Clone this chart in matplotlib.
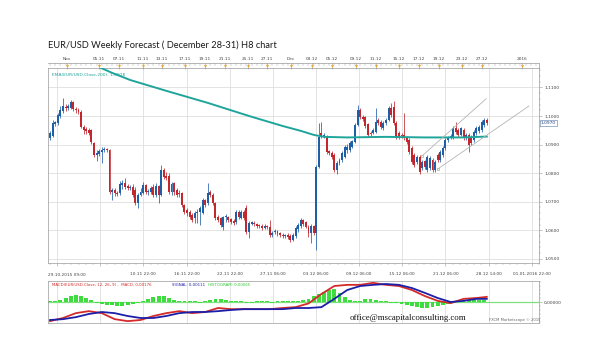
import numpy as np
import matplotlib.pyplot as plt
import matplotlib.transforms as mtransforms
from matplotlib.ticker import FixedLocator, MultipleLocator

title = 'EUR/USD Weekly Forecast ( December 28-31) H8 chart'

# H8 candles
opens = [
    1.0923, 1.0930, 1.0972, 1.0976, 1.1000, 1.1018, 1.1032, 1.1028, 1.1028, 1.1049,
    1.1025, 1.1021, 1.1014, 1.0962, 1.0955, 1.0951, 1.0951, 1.0906, 1.0864, 1.0867,
    1.0874, 1.0881, 1.0885, 1.0881, 1.0734, 1.0741, 1.0731, 1.0731, 1.0759, 1.0766,
    1.0755, 1.0748, 1.0752, 1.0741, 1.0696, 1.0724, 1.0731, 1.0759, 1.0734, 1.0734,
    1.0752, 1.0724, 1.0755, 1.0724, 1.0811, 1.0790, 1.0790, 1.0734, 1.0766, 1.0741,
    1.0731, 1.0731, 1.0689, 1.0671, 1.0664, 1.0654, 1.0643, 1.0661, 1.0664, 1.0661,
    1.0706, 1.0696, 1.0734, 1.0724, 1.0696, 1.0647, 1.0643, 1.0612, 1.0647, 1.0647,
    1.0640, 1.0633, 1.0629, 1.0664, 1.0643, 1.0664, 1.0678, 1.0594, 1.0622, 1.0626,
    1.0622, 1.0619, 1.0615, 1.0608, 1.0615, 1.0612, 1.0584, 1.0594, 1.0598, 1.0591,
    1.0584, 1.0580, 1.0584, 1.0580, 1.0566, 1.0580, 1.0605, 1.0615, 1.0636, 1.0629,
    1.0612, 1.0591, 1.0615, 1.0591, 1.0822, 1.0941, 1.0930, 1.0927, 1.0878, 1.0871,
    1.0864, 1.0811, 1.0836, 1.0846, 1.0857, 1.0881, 1.0881, 1.0892, 1.0909, 1.0969,
    1.1021, 1.0997, 1.0997, 1.0972, 1.0941, 1.0941, 1.0944, 1.0986, 1.0979, 1.0958,
    1.0976, 1.0986, 1.1028, 1.1032, 1.0976, 1.0941, 1.0934, 1.0934, 1.0923, 1.0916,
    1.0888, 1.0864, 1.0839, 1.0857, 1.0818, 1.0843, 1.0811, 1.0818, 1.0846, 1.0811,
    1.0864, 1.0846, 1.0864, 1.0888, 1.0916, 1.0927, 1.0927, 1.0958, 1.0951, 1.0934,
    1.0951, 1.0923, 1.0934, 1.0927, 1.0916, 1.0941, 1.0948, 1.0951, 1.0969, 1.0986,
]
highs = [
    1.0948, 1.0986, 1.0983, 1.1011, 1.1035, 1.1063, 1.1042, 1.1042, 1.1056, 1.1053,
    1.1032, 1.1028, 1.1021, 1.0969, 1.0962, 1.0958, 1.0955, 1.0909, 1.0881, 1.0885,
    1.0892, 1.0892, 1.0888, 1.0885, 1.0748, 1.0748, 1.0738, 1.0773, 1.0776, 1.0783,
    1.0762, 1.0759, 1.0762, 1.0752, 1.0731, 1.0748, 1.0769, 1.0762, 1.0745, 1.0755,
    1.0762, 1.0766, 1.0759, 1.0829, 1.0818, 1.0804, 1.0801, 1.0769, 1.0769, 1.0748,
    1.0741, 1.0734, 1.0692, 1.0678, 1.0671, 1.0661, 1.0668, 1.0675, 1.0685, 1.0713,
    1.0710, 1.0766, 1.0741, 1.0731, 1.0699, 1.0654, 1.0647, 1.0650, 1.0657, 1.0650,
    1.0643, 1.0640, 1.0671, 1.0671, 1.0671, 1.0671, 1.0689, 1.0633, 1.0633, 1.0633,
    1.0626, 1.0622, 1.0622, 1.0622, 1.0619, 1.0636, 1.0598, 1.0605, 1.0601, 1.0594,
    1.0591, 1.0587, 1.0591, 1.0587, 1.0591, 1.0615, 1.0626, 1.0643, 1.0640, 1.0633,
    1.0619, 1.0622, 1.0619, 1.0829, 1.0976, 1.0979, 1.0941, 1.0934, 1.0881, 1.0878,
    1.0871, 1.0843, 1.0853, 1.0878, 1.0899, 1.0902, 1.0913, 1.0916, 1.0976, 1.1039,
    1.1028, 1.1004, 1.1000, 1.0976, 1.0948, 1.0958, 1.1028, 1.0993, 1.0986, 1.0983,
    1.0993, 1.1035, 1.1046, 1.1053, 1.0983, 1.0948, 1.0941, 1.1011, 1.0930, 1.0923,
    1.0895, 1.0871, 1.0864, 1.0864, 1.0846, 1.0846, 1.0864, 1.0860, 1.0853, 1.0846,
    1.0871, 1.0881, 1.0895, 1.0923, 1.0930, 1.0937, 1.0965, 1.0979, 1.0958, 1.0962,
    1.0958, 1.0941, 1.0941, 1.0934, 1.0951, 1.0965, 1.0969, 1.0986, 1.0993, 1.0993,
]
lows = [
    1.0916, 1.0927, 1.0965, 1.0969, 1.0993, 1.1011, 1.1018, 1.1021, 1.1025, 1.1018,
    1.1011, 1.1007, 1.0958, 1.0937, 1.0937, 1.0934, 1.0902, 1.0857, 1.0843, 1.0860,
    1.0836, 1.0874, 1.0874, 1.0727, 1.0706, 1.0720, 1.0720, 1.0724, 1.0745, 1.0745,
    1.0741, 1.0741, 1.0717, 1.0689, 1.0678, 1.0720, 1.0727, 1.0727, 1.0724, 1.0727,
    1.0717, 1.0717, 1.0696, 1.0720, 1.0780, 1.0776, 1.0727, 1.0724, 1.0724, 1.0717,
    1.0717, 1.0682, 1.0657, 1.0650, 1.0640, 1.0629, 1.0626, 1.0626, 1.0619, 1.0657,
    1.0682, 1.0689, 1.0717, 1.0689, 1.0636, 1.0629, 1.0612, 1.0601, 1.0629, 1.0629,
    1.0622, 1.0619, 1.0622, 1.0640, 1.0640, 1.0636, 1.0587, 1.0573, 1.0619, 1.0615,
    1.0608, 1.0608, 1.0601, 1.0605, 1.0605, 1.0577, 1.0577, 1.0587, 1.0580, 1.0577,
    1.0573, 1.0573, 1.0570, 1.0559, 1.0563, 1.0573, 1.0594, 1.0608, 1.0615, 1.0608,
    1.0577, 1.0556, 1.0584, 1.0531, 1.0818, 1.0923, 1.0923, 1.0867, 1.0864, 1.0850,
    1.0804, 1.0797, 1.0829, 1.0839, 1.0853, 1.0871, 1.0874, 1.0888, 1.0906, 1.0965,
    1.0990, 1.0983, 1.0958, 1.0927, 1.0930, 1.0937, 1.0941, 1.0969, 1.0955, 1.0951,
    1.0969, 1.0983, 1.0997, 1.0969, 1.0920, 1.0920, 1.0923, 1.0916, 1.0902, 1.0867,
    1.0832, 1.0822, 1.0832, 1.0797, 1.0811, 1.0815, 1.0804, 1.0811, 1.0804, 1.0804,
    1.0839, 1.0839, 1.0857, 1.0881, 1.0909, 1.0920, 1.0920, 1.0937, 1.0927, 1.0930,
    1.0916, 1.0916, 1.0874, 1.0899, 1.0909, 1.0934, 1.0941, 1.0944, 1.0962, 1.0969,
]
closes = [
    1.0941, 1.0976, 1.0979, 1.1004, 1.1021, 1.1035, 1.1028, 1.1035, 1.1049, 1.1025,
    1.1021, 1.1014, 1.0962, 1.0951, 1.0948, 1.0941, 1.0909, 1.0864, 1.0871, 1.0878,
    1.0881, 1.0885, 1.0881, 1.0734, 1.0741, 1.0731, 1.0727, 1.0762, 1.0766, 1.0752,
    1.0748, 1.0752, 1.0724, 1.0696, 1.0724, 1.0734, 1.0759, 1.0734, 1.0738, 1.0748,
    1.0724, 1.0755, 1.0724, 1.0811, 1.0787, 1.0783, 1.0734, 1.0762, 1.0734, 1.0724,
    1.0727, 1.0689, 1.0664, 1.0661, 1.0647, 1.0636, 1.0661, 1.0664, 1.0678, 1.0706,
    1.0689, 1.0731, 1.0724, 1.0696, 1.0643, 1.0636, 1.0619, 1.0647, 1.0650, 1.0636,
    1.0629, 1.0626, 1.0664, 1.0647, 1.0664, 1.0643, 1.0594, 1.0626, 1.0629, 1.0622,
    1.0615, 1.0615, 1.0608, 1.0615, 1.0612, 1.0584, 1.0591, 1.0598, 1.0587, 1.0584,
    1.0580, 1.0584, 1.0577, 1.0566, 1.0584, 1.0608, 1.0619, 1.0636, 1.0622, 1.0612,
    1.0591, 1.0615, 1.0591, 1.0822, 1.0927, 1.0927, 1.0934, 1.0874, 1.0871, 1.0857,
    1.0811, 1.0836, 1.0846, 1.0871, 1.0892, 1.0892, 1.0906, 1.0913, 1.0969, 1.1021,
    1.0997, 1.0990, 1.0965, 1.0934, 1.0937, 1.0951, 1.0979, 1.0976, 1.0962, 1.0976,
    1.0986, 1.1028, 1.1004, 1.0976, 1.0927, 1.0927, 1.0930, 1.0923, 1.0909, 1.0874,
    1.0839, 1.0829, 1.0857, 1.0804, 1.0839, 1.0822, 1.0857, 1.0853, 1.0811, 1.0839,
    1.0846, 1.0874, 1.0888, 1.0916, 1.0923, 1.0930, 1.0958, 1.0944, 1.0934, 1.0958,
    1.0923, 1.0934, 1.0899, 1.0906, 1.0944, 1.0958, 1.0962, 1.0979, 1.0986, 1.0976,
]

# EMA(200) sampled at bar numbers
ema_bars = [18, 24, 31, 45, 61, 77, 90, 97, 102, 106, 115, 130, 145, 160, 169]
ema_vals = [1.1175, 1.1151, 1.1126, 1.1088, 1.1046, 1.1000, 1.0965, 1.0948,
            1.0934, 1.0927, 1.0925, 1.0927, 1.0925, 1.0925, 1.0928]

# hand drawn channel (bar, price)
upper_bars, upper_px = [143.9, 168.7], [1.0860, 1.1060]
lower_bars, lower_px = [150.1, 185.3], [1.0815, 1.1035]

# MACD(12,26,9) sampled every 5 bars
macd_bars = list(range(0, 170, 5)) + [169]
macd_vals = [-0.0067, -0.0056, -0.0039, -0.0032, -0.0039, -0.0060, -0.0067, -0.0063,
             -0.0049, -0.0039, -0.0032, -0.0039, -0.0035, -0.0021, -0.0025, -0.0025,
             -0.0025, -0.0025, -0.0021, -0.0018, -0.0005, 0.0028, 0.0056, 0.0060,
             0.0060, 0.0067, 0.0060, 0.0056, 0.0042, 0.0021, 0.0004, -0.0004,
             0.0011, 0.0014, 0.0018]
signal_vals = [-0.0063, -0.0060, -0.0053, -0.0042, -0.0035, -0.0039, -0.0049, -0.0056,
               -0.0056, -0.0049, -0.0039, -0.0035, -0.0035, -0.0032, -0.0028, -0.0025,
               -0.0025, -0.0025, -0.0025, -0.0021, -0.0021, -0.0018, 0.0011, 0.0042,
               0.0056, 0.0060, 0.0063, 0.0060, 0.0049, 0.0032, 0.0014, 0.0000,
               0.0004, 0.0011, 0.0011]
# histogram, every 2nd bar
hist_vals = [
    0.00018, 0.00035, 0.0007, 0.0014, 0.0021, 0.00245, 0.0021, 0.0014, 0.0007, -0.00035,
    -0.0007, -0.00105, -0.00105, -0.0014, -0.0014, -0.00105, -0.0007, -0.00035, 0.00035, 0.00105,
    0.00175, 0.0021, 0.0021, 0.0014, 0.0007, 0.00035, 0.00035, 0.00018, 0.00018, -0.00018,
    0.00018, 0.0007, 0.00105, 0.00105, 0.0007, 0.00035, 0.00018, 0.00018, -0.00018, -0.00018,
    0.00018, 0.00018, 0.00018, -0.00018, 0.00018, 0.00018, 0.00018, 0.00018, 0.00035, 0.0007,
    0.00105, 0.0021, 0.0028, 0.0035, 0.0042, 0.00455, 0.00315, 0.00175, 0.0007, 0.00035,
    0.00035, 0.00105, 0.00105, 0.0007, 0.00035, 0.00018, -0.00018, -0.00035, -0.0007, -0.00105,
    -0.0014, -0.00175, -0.0021, -0.0021, -0.00175, -0.0014, -0.00105, -0.0007, -0.00035, 0.00035,
    0.0007, 0.0007, 0.0007, 0.0007, 0.00065,
]

price_ticks = [1.05, 1.06, 1.07, 1.08, 1.09, 1.10, 1.11]
bottom_labels = ['', '', '10.11 22:00', '16.11 22:00', '22.11 22:00', '27.11 06:00',
                 '03.12 06:00', '09.12 06:00', '15.12 06:00', '21.12 06:00',
                 '28.12 14:00', '01.01.2016 22:00']
top_labels = ['Nov', '05.11', '07.11', '11.11', '13.11', '17.11', '19.11', '21.11',
              '25.11', '27.11', 'Dec', '03.12', '05.12', '09.12', '11.12', '15.12',
              '17.12', '19.12', '23.12', '27.12', '2016']
top_pos = [6.6, 19.0, 26.7, 36.0, 43.3, 52.2, 60.0, 67.7, 76.6, 83.9, 93.2, 101.4,
           109.1, 118.4, 126.1, 135.0, 142.7, 150.5, 159.4, 167.1, 182.6]
grid_pos = [2.7 + 16.7 * k for k in range(12)]

BULL = '#1f5fa8'
BEAR = '#c1272d'
EMA_C = '#1fa59c'
GRID = '#dedede'
SPINE = '#9a9a9a'
TXT = '#444444'

W, H = 600, 356
def fx(p):
    return p / W
def fy(p):
    return 1 - p / H

fig = plt.figure(figsize=(6, 3.56), dpi=100)
XLIM = (-0.8, 189.2)

# ---- price panel
ax = fig.add_axes([fx(48), fy(263), fx(491), (263 - 68) / H])
ax.set_xlim(*XLIM)
ax.set_ylim(1.04855, 1.1168)
ax.set_axisbelow(True)

o = np.array(opens)
c = np.array(closes)
bars = np.arange(len(c))
cols = np.where(c >= o, BULL, BEAR)
ax.vlines(bars, lows, highs, colors=cols, lw=0.55, zorder=2)
ax.bar(bars, np.maximum(np.abs(c - o), 0.00009), bottom=np.minimum(o, c),
       width=0.75, color=cols, linewidth=0, zorder=3)

ax.plot(ema_bars, ema_vals, color=EMA_C, lw=1.4, zorder=4)
ax.plot(upper_bars, upper_px, color='#b5b5b5', lw=0.6, zorder=4)
ax.plot(lower_bars, lower_px, color='#b5b5b5', lw=0.6, zorder=4)
ax.plot([upper_bars[0], lower_bars[0]], [upper_px[0], lower_px[0]], 's',
        ms=1.6, mfc='white', mec='#9a9a9a', mew=0.4, zorder=5)

ax.set_xticks(grid_pos)
ax.set_xticklabels(bottom_labels)
ax.xaxis.set_minor_locator(FixedLocator(np.arange(2.7 - 16.7, 190, 16.7 / 6)))
ax.yaxis.tick_right()
ax.set_yticks(price_ticks)
ax.set_yticklabels([f'{v:.4f}'.replace('.', ',') for v in price_ticks])
ax.yaxis.set_minor_locator(MultipleLocator(0.002))
ax.grid(True, which='major', color=GRID, lw=0.6)
ax.tick_params(axis='x', which='major', length=2.5, width=0.4, color=SPINE,
               labelsize=3.1, pad=4, labelcolor=TXT)
ax.tick_params(axis='x', which='minor', length=1.3, width=0.3, color=SPINE)
ax.tick_params(axis='y', which='major', length=2.5, width=0.4, color=SPINE,
               labelsize=3.2, pad=1.2, labelcolor=TXT)
ax.tick_params(axis='y', which='minor', length=1.3, width=0.3, color=SPINE)
for s in ax.spines.values():
    s.set_color(SPINE)
    s.set_linewidth(0.5)

ax.text(XLIM[0], -0.05, '29.10.2015 09:00',
        transform=mtransforms.blended_transform_factory(ax.transData, ax.transAxes),
        fontsize=3.1, color=TXT, ha='left', va='top')
ax.text(0.008, 0.975, 'EMA(EUR/USD.Close,200): 1,0928', transform=ax.transAxes,
        fontsize=3.2, color=EMA_C, ha='left', va='top')
ax.text(1.004, c[-1], '1,0970',
        transform=mtransforms.blended_transform_factory(ax.transAxes, ax.transData),
        fontsize=3.2, color='#1f3f7a', ha='left', va='center',
        bbox=dict(boxstyle='square,pad=0.25', fc='white', ec='#5577aa', lw=0.4))

# ---- top time ruler
axt = fig.add_axes([fx(48), fy(68), fx(491), 5 / H])
axt.set_xlim(*XLIM)
axt.set_ylim(0, 1)
axt.set_yticks([])
axt.xaxis.tick_top()
axt.set_xticks(top_pos)
axt.set_xticklabels(top_labels)
axt.xaxis.set_minor_locator(MultipleLocator(2))
axt.tick_params(axis='x', which='major', direction='in', length=4, width=0.4,
                color=SPINE, labelsize=3.1, pad=1.2, labelcolor=TXT)
axt.tick_params(axis='x', which='minor', direction='in', length=2, width=0.3, color=SPINE)
axt.plot(top_pos, [0.35] * len(top_pos), 'v', ms=2.2, color='#eea53a', mec='none', clip_on=False)
for k, s in axt.spines.items():
    s.set_color(SPINE)
    s.set_linewidth(0.5)
    s.set_visible(k in ('top', 'right'))

# ---- MACD panel
axm = fig.add_axes([fx(48), fy(323), fx(491), 42 / H])
axm.set_xlim(*XLIM)
axm.set_ylim(-0.00735, 0.00735)
axm.set_axisbelow(True)
axm.set_xticks(grid_pos)
axm.set_xticklabels([])
axm.tick_params(axis='x', length=0)
axm.grid(True, axis='x', color=GRID, lw=0.6)
axm.axhline(0, color='#7fe07f', lw=0.9, zorder=1)
axm.bar(np.arange(0, 170, 2), hist_vals, width=1.5, color='#3fdc3f', linewidth=0, zorder=2)
axm.plot(macd_bars, macd_vals, color='#d42a2a', lw=1.3, zorder=3)
axm.plot(macd_bars, signal_vals, color='#1c1fa8', lw=1.3, zorder=4)
axm.yaxis.tick_right()
axm.set_yticks([0])
axm.set_yticklabels(['0,00000'])
axm.yaxis.set_minor_locator(MultipleLocator(0.0014))
axm.tick_params(axis='y', which='major', length=2.5, width=0.4, color=SPINE,
                labelsize=3.2, pad=1.2, labelcolor=TXT)
axm.tick_params(axis='y', which='minor', length=1.3, width=0.3, color=SPINE)
for s in axm.spines.values():
    s.set_color(SPINE)
    s.set_linewidth(0.5)

fig.text(fx(52), fy(284.5), 'MACD(EUR/USD.Close, 12, 26, 9) -  MACD: 0,00176',
         fontsize=2.8, color='#d42a2a', va='center')
fig.text(fx(172), fy(284.5), 'SIGNAL: 0,00111', fontsize=2.8, color='#1c1fa8', va='center')
fig.text(fx(208), fy(284.5), 'HISTOGRAM: 0,00065', fontsize=2.8, color='#2fc82f', va='center')

fig.text(fx(48), fy(45), title, fontsize=6.7, family='Lato', color='#1a1a1a', va='center')
fig.text(fx(489), fy(320.5), 'FXCM Marketscope \u00a9 2015', fontsize=2.7, color='#666666', va='center')
fig.text(fx(350), fy(318), 'office@mscapitalconsulting.com', fontsize=6.3, family='Liberation Serif',
         color='#111111', va='center')

fig.savefig('out.png', dpi=100)
